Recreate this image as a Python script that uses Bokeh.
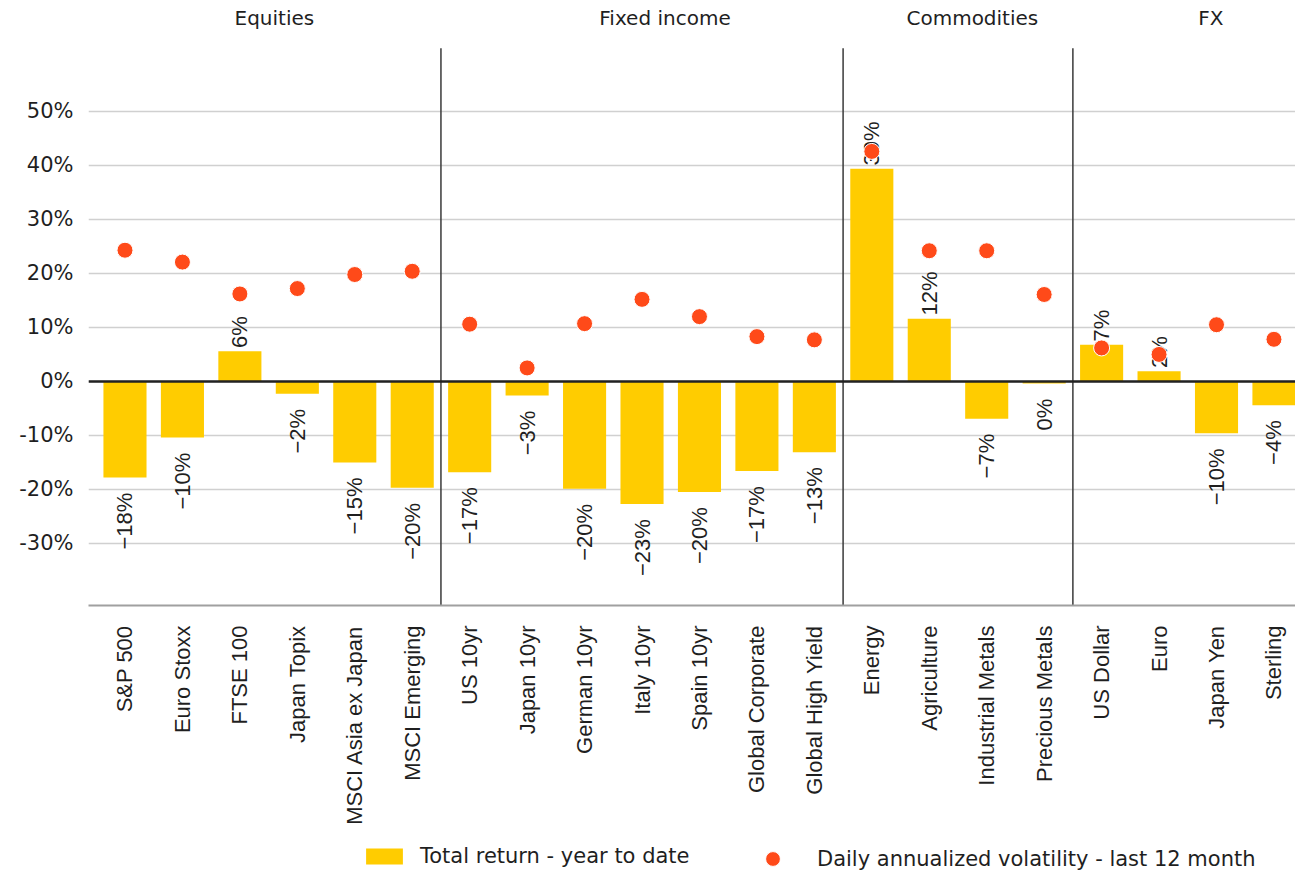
import math
from bokeh.plotting import figure
from bokeh.layouts import column
from bokeh.models import (ColumnDataSource, Range1d, FixedTicker, Span,
                          Legend, LegendItem)
from bokeh.core.properties import value
from bokeh.embed import file_html
from bokeh.resources import INLINE

# ---------------- data ----------------
categories = ["S&P 500", "Euro Stoxx", "FTSE 100", "Japan Topix", "MSCI Asia ex Japan",
              "MSCI Emerging", "US 10yr", "Japan 10yr", "German 10yr", "Italy 10yr",
              "Spain 10yr", "Global Corporate", "Global High Yield", "Energy",
              "Agriculture", "Industrial Metals", "Precious Metals", "US Dollar",
              "Euro", "Japan Yen", "Sterling"]
total_return = [-17.8, -10.4, 5.6, -2.3, -15.0, -19.7, -16.8, -2.6, -19.9, -22.7,
                -20.5, -16.6, -13.1, 39.4, 11.6, -6.9, -0.4, 6.8, 1.9, -9.6, -4.4]
volatility = [24.3, 22.1, 16.2, 17.2, 19.8, 20.4, 10.6, 2.5, 10.7, 15.2,
              12.0, 8.3, 7.7, 42.6, 24.2, 24.2, 16.1, 6.2, 5.0, 10.5, 7.8]
groups = ["Equities", "Fixed income", "Commodities", "FX"]
group_sizes = [6, 7, 4, 4]
y_ticks = [-30, -20, -10, 0, 10, 20, 30, 40, 50]

# ---------------- styles / layout ----------------
YELLOW = "#ffcc00"
RED = "#ff4a19"
TXT = "#1f1f1f"
SANS = "Liberation Sans"
UI = "DejaVu Sans"
W = 1295
Y_LO, Y_HI, Y_TOP = -41.5, 61.7, 70.55      # plot area bottom / top, title band top
TITLE_Y = 67.4
group_label_x = [2.6, 9.4, 14.75, 18.9]

xs = list(range(len(categories)))
label_y = [v + 0.6 if v >= 0 else v - 2.8 for v in total_return]
label_text = [f"{int(round(v))}%".replace("-", "\u2212") for v in total_return]
label_align = ["left" if v >= 0 else "right" for v in total_return]

src = ColumnDataSource(dict(x=xs, ret=total_return, vol=volatility,
                            ly=label_y, lt=label_text, la=label_align))

xr = Range1d(-0.635, 20.375)
p = figure(width=W, height=830, output_backend="svg", toolbar_location=None,
           x_range=xr, y_range=Range1d(Y_LO, Y_TOP),
           min_border_left=88, min_border_right=0, min_border_top=0,
           min_border_bottom=225)
p.outline_line_color = None
p.background_fill_color = "white"
p.border_fill_color = "white"

bar_style = dict(fill_color=YELLOW, line_color=None)
dot_style = dict(size=16, fill_color=RED, line_color="white", line_width=1)

bars = p.vbar(x="x", top="ret", bottom=0, width=0.75, source=src, **bar_style)

p.text(x="x", y="ly", text="lt", source=src, angle=math.pi / 2,
       text_align="la", text_baseline="middle",
       text_font=value(SANS), text_font_size="22px", text_color=TXT)

dots = p.scatter(x="x", y="vol", source=src, **dot_style)

# zero line
p.add_layout(Span(location=0, dimension="width", line_color="#222222", line_width=2.5))

# group separators (between groups, spanning the plot area)
bounds = []
cum = 0
for n in group_sizes[:-1]:
    cum += n
    bounds.append(cum - 0.5)
p.segment(x0=bounds, x1=bounds, y0=[Y_LO] * len(bounds), y1=[Y_HI] * len(bounds),
          line_color="#3a3a3a", line_width=1.5)

# group titles
p.text(x=group_label_x, y=[TITLE_Y] * len(groups), text=groups,
       text_align="center", text_baseline="middle",
       text_font=value(UI), text_font_size="20px", text_color=TXT)

# axes
p.yaxis.ticker = FixedTicker(ticks=y_ticks)
p.yaxis.major_label_overrides = {t: f"{t}%" for t in y_ticks}
p.yaxis.axis_line_color = None
p.yaxis.major_tick_line_color = None
p.yaxis.minor_tick_line_color = None
p.yaxis.major_tick_out = 0
p.yaxis.major_tick_in = 0
p.yaxis.major_label_standoff = 15
p.yaxis.major_label_text_font = UI
p.yaxis.major_label_text_font_size = "21px"
p.yaxis.major_label_text_color = TXT

p.xaxis.ticker = FixedTicker(ticks=xs)
p.xaxis.major_label_overrides = {i: c for i, c in enumerate(categories)}
p.xaxis.major_label_orientation = math.pi / 2
p.xaxis.axis_line_color = "#a0a0a0"
p.xaxis.axis_line_width = 2
p.xaxis.major_tick_line_color = None
p.xaxis.minor_tick_line_color = None
p.xaxis.major_tick_out = 0
p.xaxis.major_tick_in = 0
p.xaxis.major_label_standoff = 20
p.xaxis.major_label_text_font = SANS
p.xaxis.major_label_text_font_size = "22px"
p.xaxis.major_label_text_color = TXT

p.xgrid.grid_line_color = None
p.ygrid.grid_line_color = "#d0d0d0"
p.ygrid.grid_line_width = 1.5

# ---------------- legend strip (same data, drawn out of view; only the legend shows) ----
lf = figure(width=W, height=43, output_backend="svg", toolbar_location=None,
            x_range=xr, y_range=Range1d(100, 143),
            min_border_left=88, min_border_right=0, min_border_top=0, min_border_bottom=0)
lf.axis.visible = False
lf.grid.grid_line_color = None
lf.outline_line_color = None
lf.background_fill_color = "white"
lf.border_fill_color = "white"
kb = lf.vbar(x="x", top="ret", bottom=0, width=0.75, source=src, **bar_style)
kd = lf.scatter(x="x", y="vol", source=src, **dot_style)

leg1 = Legend(items=[LegendItem(label="Total return - year to date", renderers=[kb])],
              location=(273, 5), orientation="horizontal",
              glyph_width=46, glyph_height=20, label_height=20, label_standoff=13,
              padding=0, margin=0, border_line_color=None, background_fill_alpha=0,
              label_text_font=UI, label_text_font_size="21px", label_text_color=TXT,
              label_text_baseline="alphabetic")
leg2 = Legend(items=[LegendItem(label="Daily annualized volatility - last 12 month", renderers=[kd])],
              location=(666, -4), orientation="horizontal",
              glyph_width=37, glyph_height=37, label_standoff=26,
              padding=0, margin=0, border_line_color=None, background_fill_alpha=0,
              label_text_font=UI, label_text_font_size="21px", label_text_color=TXT,
              label_text_baseline="alphabetic")
lf.add_layout(leg1, "center")
lf.add_layout(leg2, "center")

layout = column(p, lf, spacing=0)
open("out.html", "w").write(file_html(layout, INLINE))
